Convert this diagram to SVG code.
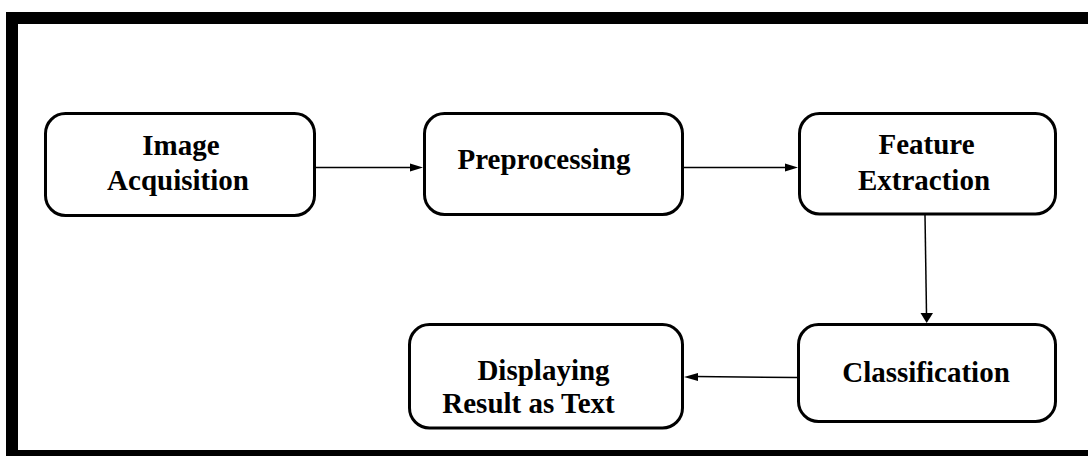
<svg xmlns="http://www.w3.org/2000/svg" width="1088" height="456" viewBox="0 0 1088 456">
  <style>
    .frame { fill: none; stroke: #000; stroke-width: 12; }
    .box { fill: #fff; stroke: #000; stroke-width: 3; }
    .lbl { font-family: "Liberation Serif", "Times New Roman", serif; font-weight: bold; font-size: 29px; fill: #000; }
    .mid { text-anchor: middle; }
    .conn { stroke: #000; stroke-width: 1.5; fill: none; }
    .head { fill: #000; stroke: none; }
  </style>
  <rect x="0" y="0" width="1088" height="456" fill="#fff"/>
  <rect class="frame" x="12" y="18" width="1100" height="438"/>

  <g id="connectors">
    <line class="conn" x1="316" y1="167.5" x2="412" y2="167.5"/>
    <polygon class="head" points="423,167.5 410,163.5 410,171.5"/>
    <line class="conn" x1="684" y1="167.5" x2="787" y2="167.5"/>
    <polygon class="head" points="798,167.5 785,163.5 785,171.5"/>
    <line class="conn" x1="925" y1="215" x2="926.5" y2="314"/>
    <polygon class="head" points="926.7,323 920.5,313 933,313"/>
    <line class="conn" x1="797" y1="377.5" x2="695" y2="376.5"/>
    <polygon class="head" points="684,377 698,373 698,381"/>
  </g>

  <g id="node-image-acquisition">
    <rect class="box" x="45.5" y="113.5" width="269" height="102" rx="20" ry="20"/>
    <text class="lbl mid" x="181" y="155">Image</text>
    <text class="lbl mid" x="178" y="190">Acquisition</text>
  </g>

  <g id="node-preprocessing">
    <rect class="box" x="424.5" y="113.5" width="258" height="101" rx="20" ry="20"/>
    <text class="lbl mid" x="544" y="169">Preprocessing</text>
  </g>

  <g id="node-feature-extraction">
    <rect class="box" x="799.5" y="113.5" width="256" height="100.5" rx="20" ry="20"/>
    <text class="lbl mid" x="926.5" y="154">Feature</text>
    <text class="lbl mid" x="924" y="190">Extraction</text>
  </g>

  <g id="node-classification">
    <rect class="box" x="798.5" y="324.5" width="257" height="97" rx="20" ry="20"/>
    <text class="lbl mid" x="926" y="381.5">Classification</text>
  </g>

  <g id="node-displaying">
    <rect class="box" x="409.5" y="324.5" width="273" height="103.5" rx="20" ry="20"/>
    <text class="lbl mid" x="543.5" y="380">Displaying</text>
    <text class="lbl mid" x="528.5" y="413">Result as Text</text>
  </g>
</svg>
